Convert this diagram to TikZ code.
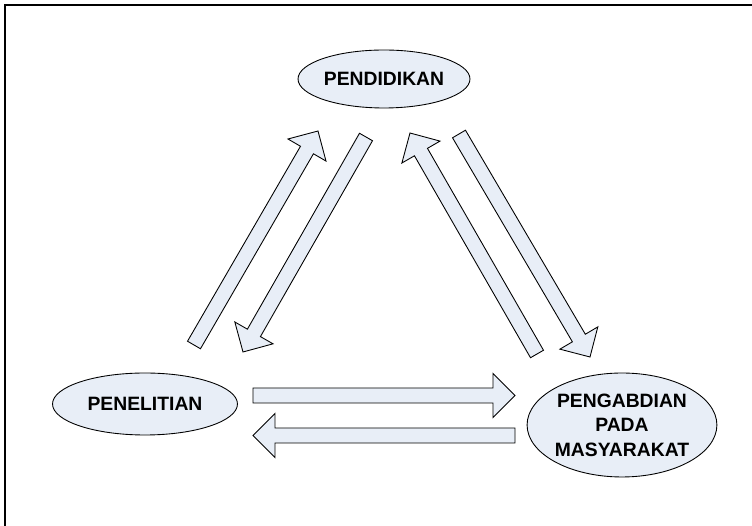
\documentclass[tikz,border=0pt]{standalone}
\usepackage{fontspec}
\setmainfont{Liberation Sans}
\usepackage{xcolor}
\usetikzlibrary{calc,shapes.geometric}

\definecolor{boxfill}{RGB}{232,238,247}

\tikzset{
    field/.style={ellipse, draw=black, fill=boxfill, line width=0.5pt, inner sep=0pt,
                  align=center, font=\bfseries\fontsize{11}{14}\selectfont},
    arrowbody/.style={draw=black, fill=boxfill, line width=0.5pt, line join=miter},
}

% block arrow from #1 to #2
\newcommand{\blockarrow}[2]{%
    \coordinate (hb) at ($(#2)!0.44cm!(#1)$);
    \draw[arrowbody] ($(#1)!0.15cm!90:(#2)$) -- ($(hb)!0.15cm!90:(#2)$)
        -- ($(hb)!0.44cm!90:(#2)$) -- (#2) -- ($(hb)!0.44cm!-90:(#2)$)
        -- ($(hb)!0.15cm!-90:(#2)$) -- ($(#1)!0.15cm!-90:(#2)$) -- cycle;
}

\begin{document}
\begin{tikzpicture}[x=0.02cm, y=-0.02cm]
            \useasboundingbox (0,0) rectangle (752,526);

            %% frame
            \draw[black, line width=0.8pt] (5,526) -- (5,5) -- (752,5);

            %% fields
            \node[field, minimum width=3.44cm, minimum height=1.16cm] (pendidikan) at (384,79)  {PENDIDIKAN};
            \node[field, minimum width=3.70cm, minimum height=1.24cm] (penelitian) at (145,404) {PENELITIAN};
            \node[field, minimum width=3.70cm, minimum height=2.08cm] (pengabdian) at (622,425) {PENGABDIAN\\PADA\\MASYARAKAT};

            %% arrow ends
            \coordinate (pnlUp)    at (194,345);
            \coordinate (pddLeft)  at (318,131);
            \coordinate (pddDown)  at (366,137);
            \coordinate (pnlTop)   at (243,352);
            \coordinate (pgbUp)    at (537,354);
            \coordinate (pddRight) at (410,133);
            \coordinate (pddOut)   at (459,134);
            \coordinate (pgbTop)   at (590,357);
            \coordinate (pnlOut)   at (253,395.5);
            \coordinate (pgbIn)    at (515,395.5);
            \coordinate (pgbOut)   at (515,435.5);
            \coordinate (pnlIn)    at (253,435.5);

            % penelitian - pendidikan
            \blockarrow{pnlUp}{pddLeft}
            \blockarrow{pddDown}{pnlTop}

            % pengabdian - pendidikan
            \blockarrow{pgbUp}{pddRight}
            \blockarrow{pddOut}{pgbTop}

            % penelitian - pengabdian
            \blockarrow{pnlOut}{pgbIn}
            \blockarrow{pgbOut}{pnlIn}

        \end{tikzpicture}
\end{document}
